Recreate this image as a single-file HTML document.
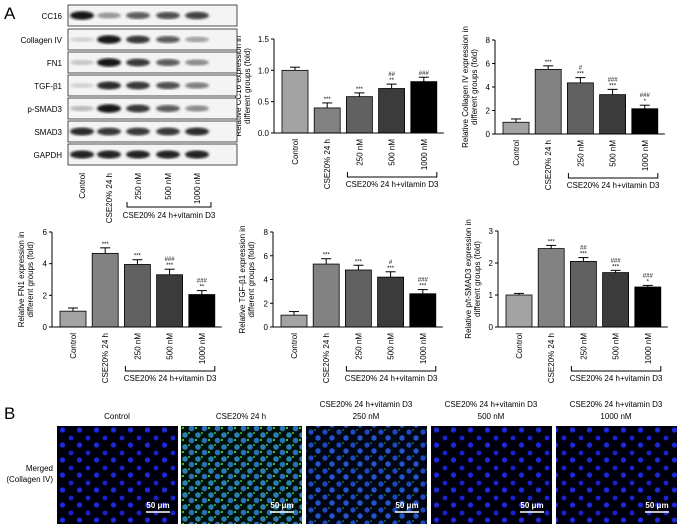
<!DOCTYPE html>
<html><head><meta charset="utf-8"><style>
html,body{margin:0;padding:0;background:#fff;}
svg{display:block;font-family:"Liberation Sans",Arial,sans-serif;}
</style></head><body>
<svg id="fig" width="677" height="529" viewBox="0 0 677 529" xmlns="http://www.w3.org/2000/svg">
<defs>
<filter id="blur1"><feGaussianBlur stdDeviation="1.3"/></filter>
<pattern id="nucBlue" width="17" height="15" patternUnits="userSpaceOnUse">
<rect width="17" height="15" fill="#00000c"/>
<circle cx="3" cy="3" r="2.4" fill="#1a22d0"/><circle cx="11.5" cy="10" r="2.6" fill="#1e28dc"/>
</pattern>
<pattern id="nucGreen" width="13" height="12" patternUnits="userSpaceOnUse">
<rect width="13" height="12" fill="#02100a"/>
<circle cx="3" cy="3" r="2.8" fill="#2a7eb0"/><circle cx="9.5" cy="8.5" r="2.8" fill="#2a70b8"/>
<circle cx="7" cy="1" r="1" fill="#38c030"/><circle cx="1" cy="8" r="1.1" fill="#40d038"/>
</pattern>
<pattern id="nucMid" width="14" height="13" patternUnits="userSpaceOnUse">
<rect width="14" height="13" fill="#000614"/>
<circle cx="3" cy="3" r="2.6" fill="#1f48c0"/><circle cx="10" cy="9" r="2.7" fill="#2454c8"/>
<circle cx="7" cy="1" r="0.8" fill="#30b040"/>
</pattern>
</defs>
<g id="root"></g>
</svg>
<script>
const categories = ['Control','CSE20% 24 h','250 nM','500 nM','1000 nM'];
const barColors = ['#a3a3a3','#828282','#616161','#3b3b3b','#000000'];

const cc16Values = [1.0, 0.40, 0.58, 0.71, 0.82];
const cc16Err = [0.05, 0.08, 0.06, 0.07, 0.07];
const cc16Stars = ['','***','***','**',''];
const cc16Hash = ['','','','##','###'];
const cc16Ticks = [0, 0.5, 1.0, 1.5];
const cc16TickLabels = ['0.0','0.5','1.0','1.5'];

const colValues = [1.0, 5.5, 4.35, 3.35, 2.15];
const colErr = [0.28, 0.3, 0.45, 0.45, 0.3];
const colStars = ['','***','***','***','*'];
const colHash = ['','','#','###','###'];
const colTicks = [0,2,4,6,8];

const fnValues = [1.0, 4.65, 3.95, 3.3, 2.05];
const fnErr = [0.2, 0.35, 0.3, 0.35, 0.25];
const fnStars = ['','***','***','***','**'];
const fnHash = ['','','','###','###'];
const fnTicks = [0,2,4,6];

const tgfValues = [1.0, 5.3, 4.8, 4.2, 2.8];
const tgfErr = [0.3, 0.45, 0.4, 0.45, 0.35];
const tgfStars = ['','***','***','***','***'];
const tgfHash = ['','','','#','###'];
const tgfTicks = [0,2,4,6,8];

const psValues = [1.0, 2.45, 2.05, 1.7, 1.25];
const psErr = [0.05, 0.1, 0.12, 0.07, 0.05];
const psStars = ['','***','***','***','*'];
const psHash = ['','','##','###','###'];
const psTicks = [0,1,2,3];

const NS='http://www.w3.org/2000/svg';
const root=document.getElementById('root');
function mk(tag,attrs,parent,txt){const e=document.createElementNS(NS,tag);for(const k in attrs)e.setAttribute(k,attrs[k]);if(txt!==undefined)e.textContent=txt;(parent||root).appendChild(e);return e;}

function chart(name,ax,yTop,yBot,maxV,vals,errs,stars,hashes,ticks,tickLabels,title1,title2,titleX){
  const g=mk('g',{});
  
  
  const yS=v=>yBot-(v/maxV)*(yBot-yTop);
  const xS=i=>ax+8+i*32.2;
  const bw=26;
  vals.forEach((v,i)=>{
    const x=xS(i), y=yS(v), ye=yS(v+errs[i]);
    const eb=mk('line',{x1:x+bw/2,x2:x+bw/2,y1:y,y2:ye,stroke:'#000','stroke-width':1},g);
    
    
    mk('line',{x1:x+bw/2-5,x2:x+bw/2+5,y1:ye,y2:ye,stroke:'#000','stroke-width':1},g);
    const r=mk('rect',{x:x,y:y,width:bw,height:yBot-y,fill:barColors[i],stroke:'#000','stroke-width':0.8},g);
    
    
    if(stars[i]){const t=mk('text',{x:x+bw/2,y:ye-2,'font-size':6,'text-anchor':'middle'},g,stars[i]);}
    if(hashes[i]){const t=mk('text',{x:x+bw/2,y:ye-(stars[i]?8:2),'font-size':6,'text-anchor':'middle'},g,hashes[i]);}
    const lt=mk('text',{transform:`translate(${x+bw/2+3},${yBot+6}) rotate(-90)`,'font-size':8,'text-anchor':'end'},g,categories[i]);
    
    
  });
  const xEnd=xS(4)+bw+7;
  mk('line',{x1:ax,x2:xEnd,y1:yBot,y2:yBot,stroke:'#000','stroke-width':1},g);
  const yl=mk('line',{x1:ax,x2:ax,y1:yTop,y2:yBot,stroke:'#000','stroke-width':1},g);
  
  
  ticks.forEach((t,i)=>{
    const y=yS(t);
    mk('line',{x1:ax-3,x2:ax,y1:y,y2:y,stroke:'#000'},g);
    const tl=mk('text',{x:ax-5,y:y+3,'font-size':8,'text-anchor':'end'},g,tickLabels?tickLabels[i]:String(t));
    
    
  });
  const bx1=xS(2)+1,bx2=xS(4)+bw,by=yBot+44;
  const br=mk('path',{d:`M${bx1},${by-5}V${by}H${bx2}V${by-5}`,fill:'none',stroke:'#000','stroke-width':1},g);
  
  
  const bt=mk('text',{x:(bx1+bx2)/2,y:by+10,'font-size':8,'text-anchor':'middle'},g,'CSE20% 24 h+vitamin D3');
  
  
  const mid=(yTop+yBot)/2;
  const yt=mk('text',{transform:`translate(${titleX},${mid}) rotate(-90)`,'font-size':8,'text-anchor':'middle'},g);
  
  
  mk('tspan',{x:0,dy:0},yt,title1);
  mk('tspan',{x:0,dy:9},yt,title2);
}

chart('cc16',274,39,133,1.5,cc16Values,cc16Err,cc16Stars,cc16Hash,cc16Ticks,cc16TickLabels,'Relative CC16 expression in','different groups (fold)',241);
chart('collagen-iv',495,40,134,8,colValues,colErr,colStars,colHash,colTicks,null,'Relative Collagen IV expression in','different groups (fold)',468);
chart('fn1',52,232,327,6,fnValues,fnErr,fnStars,fnHash,fnTicks,null,'Relative FN1 expression in','different groups (fold)',24);
chart('tgf-b1',273,232,327,8,tgfValues,tgfErr,tgfStars,tgfHash,tgfTicks,null,'Relative TGF-β1 expression in','different groups (fold)',245);
chart('p-smad3',498,231,327,3,psValues,psErr,psStars,psHash,psTicks,null,'Relative p/t-SMAD3 expression in','different groups (fold)',471);

// Western blot
const blotRows=['CC16','Collagen IV','FN1','TGF-β1','p-SMAD3','SMAD3','GAPDH'];
const blotY=[5,29,52,75,98,121,144];
const blotInt=[[1,.45,.7,.75,.8],[.2,1,.85,.7,.4],[.25,1,.85,.7,.5],[.2,.9,.85,.75,.55],[.3,1,.85,.7,.5],[.9,.85,.85,.85,.9],[.95,.95,.95,.95,.95]];
const laneX=[82,109,138,168,197];
const wb=mk('g',{});


blotRows.forEach((r,ri)=>{
  const y=blotY[ri];
  mk('rect',{x:68,y:y,width:169,height:21,fill:'#f4f4f4',stroke:'#222','stroke-width':0.8},wb);
  blotInt[ri].forEach((v,li)=>{
    const c=Math.round(255-235*v);
    mk('ellipse',{cx:laneX[li],cy:y+10.5,rx:12,ry:2+2.2*v,fill:`rgb(${c},${c},${c})`,filter:'url(#blur1)'},wb);
  });
  const t=mk('text',{x:62,y:y+14,'font-size':8,'text-anchor':'end'},wb,r);
  
  
});
categories.forEach((c,i)=>{
  const t=mk('text',{transform:`translate(${laneX[i]+3},${173}) rotate(-90)`,'font-size':8,'text-anchor':'end'},wb,c);
  
  
});
mk('path',{d:'M127,202V207H211V202',fill:'none',stroke:'#000'},wb);
mk('text',{x:169,y:218,'font-size':8,'text-anchor':'middle'},wb,'CSE20% 24 h+vitamin D3');

const lA=mk('text',{x:4,y:19,'font-size':17},root,'A');


const lB=mk('text',{x:4,y:419,'font-size':17},root,'B');



// Panel B images
const imgX=[57,181,306,431,556];
const imgFill=['url(#nucBlue)','url(#nucGreen)','url(#nucMid)','url(#nucBlue)','url(#nucBlue)'];
const imgT1=['','','CSE20% 24 h+vitamin D3','CSE20% 24 h+vitamin D3','CSE20% 24 h+vitamin D3'];
const imgT2=['Control','CSE20% 24 h','250 nM','500 nM','1000 nM'];
imgX.forEach((x,i)=>{
  const g=mk('g',{});
  
  
  mk('rect',{x:x,y:426,width:121,height:98,fill:imgFill[i]},g);
  mk('text',{x:x+101,y:508,'font-size':8,fill:'#fff','text-anchor':'middle','font-weight':'bold'},g,'50 μm');
  mk('line',{x1:x+89,x2:x+113,y1:512,y2:512,stroke:'#fff','stroke-width':1.5},g);
  if(imgT1[i])mk('text',{x:x+60,y:407,'font-size':8,'text-anchor':'middle'},g,imgT1[i]);
  mk('text',{x:x+60,y:419,'font-size':8,'text-anchor':'middle'},g,imgT2[i]);
});
const m1=mk('text',{x:53,y:471,'font-size':8,'text-anchor':'end'},root,'Merged');


mk('text',{x:53,y:482,'font-size':8,'text-anchor':'end'},root,'(Collagen IV)');
</script>
</body></html>
